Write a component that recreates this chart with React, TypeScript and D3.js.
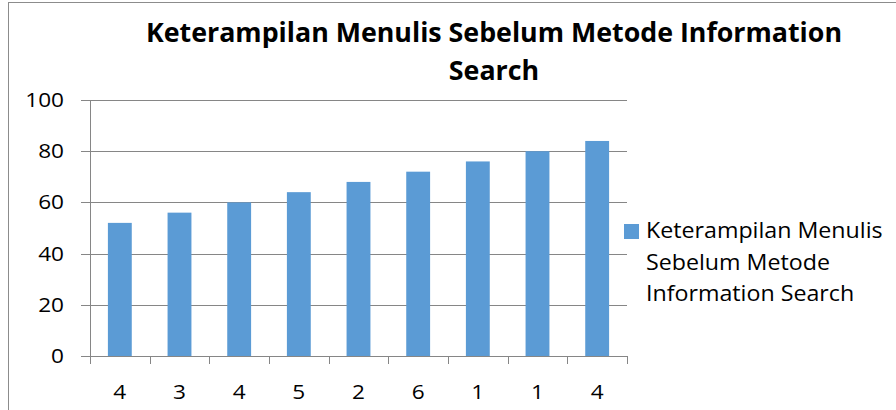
import React, { useEffect, useRef } from 'react';
import * as d3 from 'd3';

const categories = ['4', '3', '4', '5', '2', '6', '1', '1', '4'];
const values = [52, 56, 60, 64, 68, 72, 76, 80, 84];
const yTicks = [0, 20, 40, 60, 80, 100];
const titleLines = ['Keterampilan Menulis Sebelum Metode Information', 'Search'];
const legendLines = ['Keterampilan Menulis', 'Sebelum Metode', 'Information Search'];

const W = 896;
const H = 410;
const FONT = '"Open Sans", sans-serif';

// the original text is a bit wider than Open Sans, stretch it sideways
const stretch = (sel: d3.Selection<SVGTextElement, any, any, any>, k: number) => {
  sel.each(function () {
    const len = this.getComputedTextLength();
    d3.select(this).attr('textLength', len * k).attr('lengthAdjust', 'spacingAndGlyphs');
  });
};

const App = () => {
  const ref = useRef<SVGSVGElement>(null);

  useEffect(() => {
    if (!ref.current) return;
    const svg = d3.select(ref.current);
    svg.selectAll('*').remove();

    const margin = { top: 100, left: 90, right: 627, bottom: 356 };

    // chart frame (right and bottom edges run off the picture)
    svg
      .append('rect')
      .attr('x', 8.5)
      .attr('y', 2.5)
      .attr('width', 900)
      .attr('height', 420)
      .attr('fill', '#fff')
      .attr('stroke', '#8c8c8c');

    const band = d3.scaleBand<number>().domain(d3.range(categories.length)).range([margin.left, margin.right]);
    const barW = band.bandwidth() * 0.4;
    const y = d3.scaleLinear().domain([0, 100]).range([margin.bottom, margin.top]);

    // gridlines
    svg
      .append('g')
      .selectAll('line')
      .data(yTicks)
      .join('line')
      .attr('x1', margin.left - 9)
      .attr('x2', margin.right)
      .attr('y1', (d) => Math.round(y(d)) + 0.5)
      .attr('y2', (d) => Math.round(y(d)) + 0.5)
      .attr('stroke', '#868686');

    // y axis line
    svg
      .append('line')
      .attr('x1', margin.left + 0.5)
      .attr('x2', margin.left + 0.5)
      .attr('y1', margin.top)
      .attr('y2', margin.bottom + 8)
      .attr('stroke', '#868686');

    // x category ticks
    svg
      .append('g')
      .selectAll('line')
      .data(d3.range(categories.length))
      .join('line')
      .attr('x1', (i) => Math.round((band(i) ?? 0) + band.bandwidth()) + 0.5)
      .attr('x2', (i) => Math.round((band(i) ?? 0) + band.bandwidth()) + 0.5)
      .attr('y1', margin.bottom)
      .attr('y2', margin.bottom + 8)
      .attr('stroke', '#868686');

    // bars
    svg
      .append('g')
      .selectAll('rect')
      .data(values)
      .join('rect')
      .attr('x', (_, i) => (band(i) ?? 0) + band.bandwidth() / 2 - barW / 2)
      .attr('y', (d) => y(d))
      .attr('width', barW)
      .attr('height', (d) => y(0) - y(d))
      .attr('fill', '#5b9bd5');

    // y labels
    const yLabels = svg
      .append('g')
      .selectAll<SVGTextElement, number>('text')
      .data(yTicks)
      .join('text')
      .attr('x', 64)
      .attr('y', (d) => y(d))
      .attr('dy', '0.35em')
      .attr('text-anchor', 'end')
      .attr('font-family', FONT)
      .attr('font-size', 20)
      .attr('fill', '#000')
      .text((d) => d);
    stretch(yLabels, 1.13);

    // x labels
    const xLabels = svg
      .append('g')
      .selectAll<SVGTextElement, string>('text')
      .data(categories)
      .join('text')
      .attr('x', (_, i) => (band(i) ?? 0) + band.bandwidth() / 2)
      .attr('y', 392)
      .attr('dy', '0.35em')
      .attr('text-anchor', 'middle')
      .attr('font-family', FONT)
      .attr('font-size', 20)
      .attr('fill', '#000')
      .text((d) => d);
    stretch(xLabels, 1.13);

    // title
    const title = svg
      .append('g')
      .selectAll<SVGTextElement, string>('text')
      .data(titleLines)
      .join('text')
      .attr('x', 494)
      .attr('y', (_, i) => 42 + i * 38)
      .attr('text-anchor', 'middle')
      .attr('font-family', FONT)
      .attr('font-weight', 'bold')
      .attr('font-size', 26)
      .attr('fill', '#000')
      .text((d) => d);
    stretch(title, 1.03);

    // legend
    svg
      .append('rect')
      .attr('x', 624)
      .attr('y', 224)
      .attr('width', 15)
      .attr('height', 15)
      .attr('fill', '#5b9bd5');
    const legend = svg
      .append('g')
      .selectAll<SVGTextElement, string>('text')
      .data(legendLines)
      .join('text')
      .attr('x', 646)
      .attr('y', (_, i) => 238 + i * 31.5)
      .attr('font-family', FONT)
      .attr('font-size', 21)
      .attr('fill', '#000')
      .text((d) => d);
    stretch(legend, 1.105);
  }, []);

  return (
    <svg
      ref={ref}
      width={W}
      height={H}
      style={{ display: 'block', position: 'absolute', left: 0, top: 0 }}
    />
  );
};

export default App;
